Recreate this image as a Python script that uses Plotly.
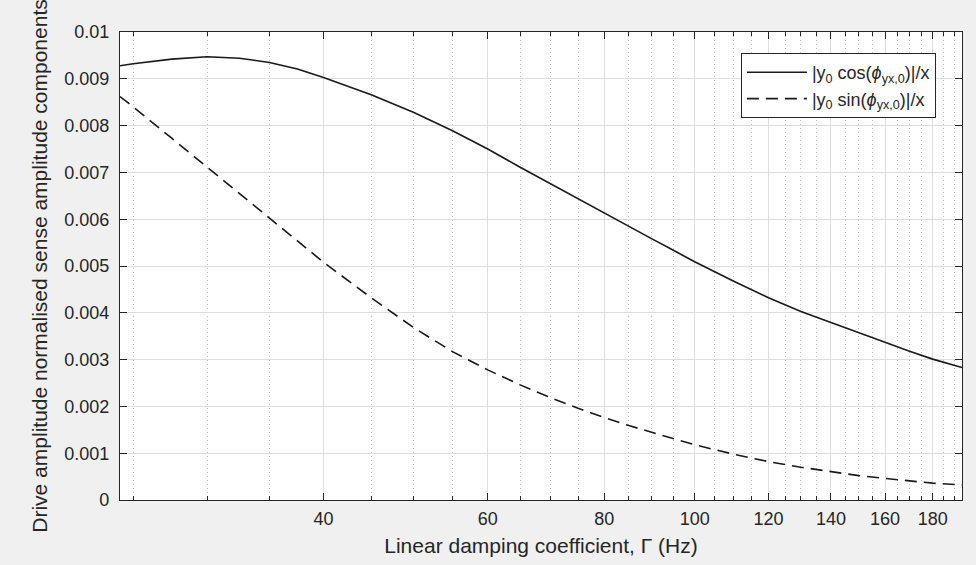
import numpy as np
import plotly.graph_objects as go

# Data
gamma = [24.2, 25, 27.5, 30, 32.5, 35, 37.5, 40, 45, 50, 55, 60, 65, 70, 75, 80,
         85, 90, 95, 100, 110, 120, 130, 140, 150, 160, 170, 180, 193.5]
cos_comp = [0.00928, 0.00932, 0.00942, 0.00947, 0.00944, 0.00935, 0.00921, 0.00903,
            0.00866, 0.00828, 0.00789, 0.00750, 0.00711, 0.00676, 0.00643, 0.00612,
            0.00584, 0.00558, 0.00533, 0.00509, 0.00468, 0.00432, 0.00403, 0.00379,
            0.00357, 0.00337, 0.00318, 0.00301, 0.00283]
sin_comp = [0.00862, 0.00840, 0.00773, 0.00711, 0.00654, 0.00603, 0.00554, 0.00508,
            0.00432, 0.00368, 0.00317, 0.00278, 0.00246, 0.00219, 0.00196, 0.00176,
            0.00159, 0.00144, 0.00130, 0.00118, 0.00098, 0.00082, 0.00070, 0.00060,
            0.00052, 0.00046, 0.00041, 0.00036, 0.00032]

x_ticks = [40, 60, 80, 100, 120, 140, 160, 180]
x_minor = [v for v in range(25, 195, 5) if v not in x_ticks]
y_ticks = [0, 0.001, 0.002, 0.003, 0.004, 0.005, 0.006, 0.007, 0.008, 0.009, 0.01]
y_ticktext = ["0", "0.001", "0.002", "0.003", "0.004", "0.005", "0.006", "0.007",
              "0.008", "0.009", "0.01"]
x_range = [24.2, 193.5]

names = ["|y<sub>0</sub> cos(<i>ϕ</i><sub>yx,0</sub>)|/x",
         "|y<sub>0</sub> sin(<i>ϕ</i><sub>yx,0</sub>)|/x"]

fig = go.Figure()
fig.add_trace(go.Scatter(x=gamma, y=cos_comp, mode="lines", name=names[0],
                         line=dict(color="#1a1a1a", width=1.6)))
fig.add_trace(go.Scatter(x=gamma, y=sin_comp, mode="lines", name=names[1],
                         line=dict(color="#1a1a1a", width=1.6, dash="12px,7px")))

axis_font = dict(family="Liberation Sans, Arial, sans-serif", size=18, color="#262626")

fig.update_layout(
    width=976, height=565,
    paper_bgcolor="#f0f0f0", plot_bgcolor="white",
    margin=dict(l=120, r=14, t=32, b=65, autoexpand=False),
    font=dict(family="Liberation Sans, Arial, sans-serif", size=18, color="#262626"),
    showlegend=True,
    legend=dict(x=0.969, y=0.955, xanchor="right", yanchor="top",
                bgcolor="white", bordercolor="#262626", borderwidth=1,
                font=dict(size=18, color="#262626"), itemwidth=60,
                tracegroupgap=0),
    xaxis=dict(
        type="log", range=[np.log10(x_range[0]), np.log10(x_range[1])],
        tickmode="array", tickvals=x_ticks, ticktext=[str(v) for v in x_ticks],
        ticks="inside", ticklen=7, tickcolor="#262626", tickwidth=1,
        showline=True, linecolor="#262626", linewidth=1.2, mirror="allticks",
        showgrid=True, gridcolor="#dedede", gridwidth=1,
        zeroline=False, tickfont=axis_font, ticklabelstandoff=2,
        minor=dict(tickmode="array", tickvals=x_minor, ticks="inside", ticklen=4,
                   tickcolor="#262626", showgrid=True, gridcolor="#c4c4c4",
                   griddash="1px,3px", gridwidth=1),
        title=dict(text="Linear damping coefficient, Γ (Hz)",
                   font=dict(size=21, color="#262626"), standoff=10),
    ),
    yaxis=dict(
        range=[0, 0.01], tickmode="array", tickvals=y_ticks, ticktext=y_ticktext,
        ticks="inside", ticklen=7, tickcolor="#262626", tickwidth=1,
        showline=True, linecolor="#262626", linewidth=1.2, mirror="allticks",
        showgrid=True, gridcolor="#dedede", gridwidth=1,
        zeroline=False, tickfont=axis_font, ticklabelstandoff=6,
        title=dict(text="Drive amplitude normalised sense amplitude components",
                   font=dict(size=21, color="#262626"), standoff=10),
    ),
)

fig.write_html("out.html")
